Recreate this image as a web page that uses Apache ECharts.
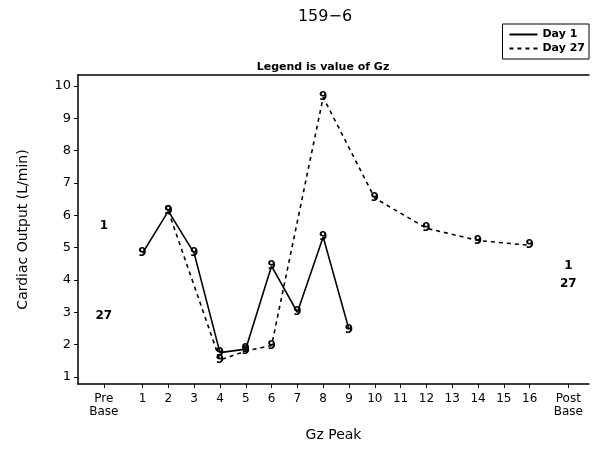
<!DOCTYPE html>
<html>
<head>
<meta charset="utf-8">
<title>159-6</title>
<script src="https://cdn.jsdelivr.net/npm/echarts@6.0.0/dist/echarts.min.js"></script>
<style>
  html, body { margin: 0; padding: 0; background: #fff; }
  #chart { width: 592px; height: 454px; }
</style>
</head>
<body>
<div id="chart"></div>
<script>
// x positions of the Gz peaks (1..16), Pre/Post baselines sit half a step further out
var gzPeak = [1, 2, 3, 4, 5, 6, 7, 8, 9, 10, 11, 12, 13, 14, 15, 16];
var day1 = [4.83, 6.13, 4.83, 1.75, 1.86, 4.43, 3.0, 5.33, 2.47, null, null, null, null, null, null, null];
var day27 = [null, 6.13, null, 1.52, 1.8, 1.97, null, 9.65, null, 6.53, null, 5.6, null, 5.22, null, 5.07];
var gzMark = '9';

var baseDays = ['1', '27'];
var preBase = [5.67, 2.88];
var postBase = [4.43, 3.87];
var preX = -0.5, postX = 17.5;

var xTickValues = [preX].concat(gzPeak, [postX]);
var xTickLabels = ['Pre\nBase'].concat(gzPeak.map(String), ['Post\nBase']);
var yTickValues = [1, 2, 3, 4, 5, 6, 7, 8, 9, 10];

var font = 'DejaVu Sans';

function pairs(vals) {
    return gzPeak.map(function (g, i) { return [g, vals[i]]; });
}

var baseData = [];
baseDays.forEach(function (d, i) {
    baseData.push({ name: d, value: [preX, preBase[i]] });
    baseData.push({ name: d, value: [postX, postBase[i]] });
});

var chart = echarts.init(document.getElementById('chart'));

var markLabel = {
    show: true,
    position: 'inside',
    formatter: gzMark,
    color: '#000',
    fontFamily: font,
    fontSize: 12,
    fontWeight: 'bold'
};

chart.setOption({
    animation: false,
    backgroundColor: '#fff',
    title: [
        { text: '159\u22126', left: 320, top: 4, textAlign: 'center',
          textStyle: { fontFamily: font, fontSize: 16, fontWeight: 'normal', color: '#000' } },
        { text: 'Legend is value of Gz', left: 318, top: 57, textAlign: 'center',
          textStyle: { fontFamily: font, fontSize: 11, fontWeight: 'bold', color: '#000' } }
    ],
    legend: {
        data: ['Day 1', 'Day 27'],
        orient: 'vertical',
        right: 3,
        top: 24,
        borderColor: '#000',
        borderWidth: 1,
        padding: [5, 4, 5, 6],
        itemGap: 3,
        itemWidth: 28,
        itemHeight: 10,
        textStyle: { fontFamily: font, fontSize: 11, fontWeight: 'bold', color: '#000' }
    },
    grid: { left: 78, right: 3, top: 75, bottom: 70 },
    xAxis: [{
        type: 'value',
        min: -1.5,
        max: 18.3,
        name: 'Gz Peak',
        nameLocation: 'middle',
        nameGap: 44,
        nameTextStyle: { fontFamily: font, fontSize: 14, color: '#000' },
        axisLine: { onZero: false, lineStyle: { color: '#000', width: 1.5 } },
        axisTick: { customValues: xTickValues, length: 4, lineStyle: { color: '#000' } },
        axisLabel: {
            customValues: xTickValues,
            formatter: function (v) {
                var i = xTickValues.indexOf(v);
                return i < 0 ? '' : xTickLabels[i];
            },
            margin: 8,
            lineHeight: 13,
            fontFamily: font, fontSize: 12, color: '#000'
        },
        splitLine: { show: false }
    }, {
        type: 'value',
        position: 'top',
        min: -1.5,
        max: 18.3,
        axisLine: { show: true, onZero: false, lineStyle: { color: '#000', width: 1.5 } },
        axisTick: { show: false },
        axisLabel: { show: false },
        splitLine: { show: false }
    }],
    yAxis: {
        type: 'value',
        min: 0.78,
        max: 10.34,
        name: 'Cardiac Output (L/min)',
        nameLocation: 'middle',
        nameGap: 48,
        nameTextStyle: { fontFamily: font, fontSize: 14, color: '#000' },
        axisLine: { show: true, onZero: false, lineStyle: { color: '#000', width: 1.5 } },
        axisTick: { customValues: yTickValues, length: 4, lineStyle: { color: '#000' } },
        axisLabel: { customValues: yTickValues, margin: 7, fontFamily: font, fontSize: 13, color: '#000' },
        splitLine: { show: false }
    },
    series: [{
        name: 'Day 1',
        type: 'line',
        data: pairs(day1),
        symbol: 'circle',
        symbolSize: 2,
        itemStyle: { color: 'rgba(0,0,0,0)' },
        lineStyle: { color: '#000', width: 1.6 },
        label: markLabel
    }, {
        name: 'Day 27',
        type: 'line',
        data: pairs(day27),
        connectNulls: true,
        symbol: 'circle',
        symbolSize: 2,
        itemStyle: { color: 'rgba(0,0,0,0)' },
        lineStyle: { color: '#000', width: 1.6, type: [4, 4] },
        label: markLabel
    }, {
        name: 'Baseline',
        type: 'scatter',
        data: baseData,
        symbolSize: 2,
        itemStyle: { color: 'rgba(0,0,0,0)', opacity: 1 },
        label: {
            show: true,
            position: 'inside',
            formatter: '{b}',
            color: '#000',
            fontFamily: font,
            fontSize: 12,
            fontWeight: 'bold'
        }
    }]
});
</script>
</body>
</html>
